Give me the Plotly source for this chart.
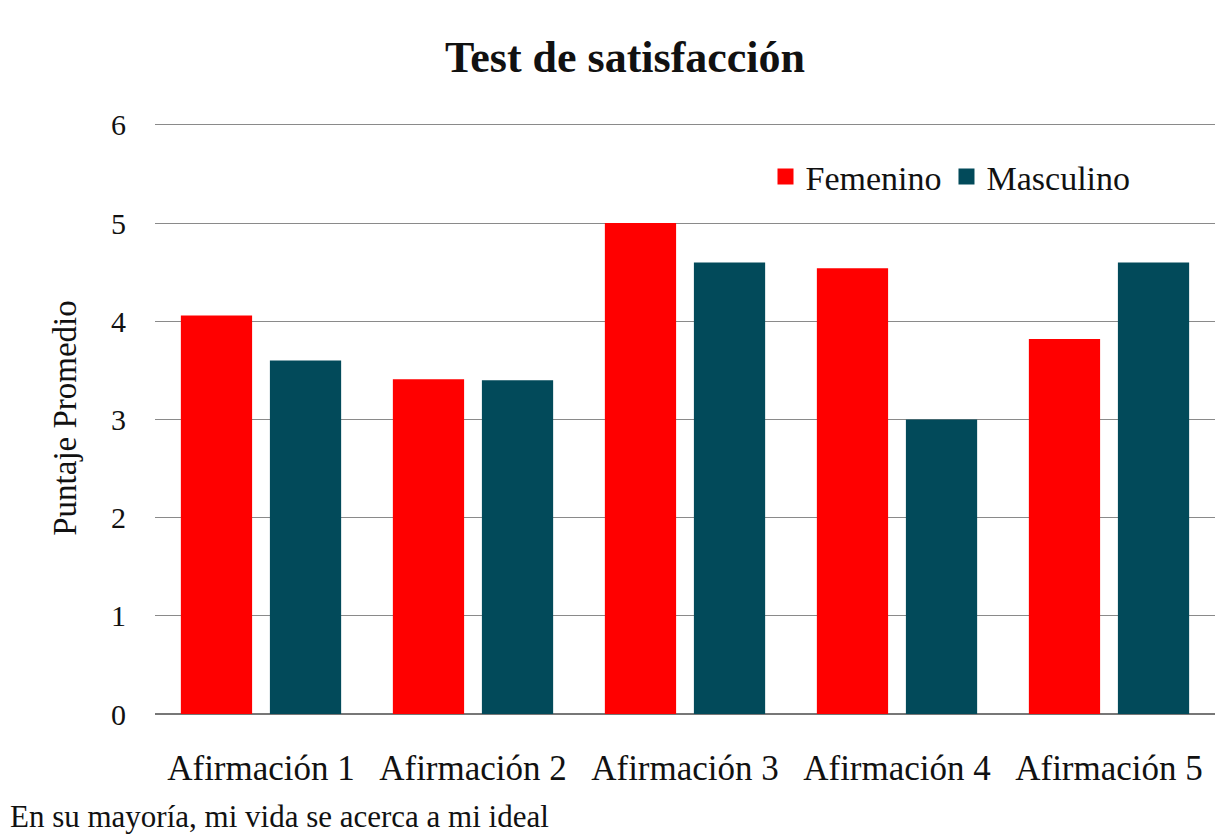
import plotly.graph_objects as go

categories = ["Afirmación 1", "Afirmación 2", "Afirmación 3", "Afirmación 4", "Afirmación 5"]
femenino = [4.06, 3.41, 5.0, 4.54, 3.82]
masculino = [3.60, 3.40, 4.60, 3.00, 4.60]
series_names = ["Femenino", "Masculino"]
colors = ["#FF0000", "#024A5A"]

FONT = "Liberation Serif"

# page is rendered with an 8px body margin: figure coords = page coords - 8
plot_top, plot_bottom = 114, 706
plot_h = plot_bottom - plot_top

fig = go.Figure()
for name, vals, col in zip(series_names, [femenino, masculino], colors):
    fig.add_trace(go.Bar(name=name, x=categories, y=vals, showlegend=False,
                         marker=dict(color=col, line=dict(width=0))))
# legend entries with larger square swatches
for name, col in zip(series_names, colors):
    fig.add_trace(go.Scatter(name=name, x=[None], y=[None], mode="markers",
                             marker=dict(symbol="square", size=18, color=col)))

fig.update_layout(
    width=1230, height=837,
    paper_bgcolor="white", plot_bgcolor="white",
    margin=dict(l=147, r=23, t=plot_top, b=837 - plot_bottom, autoexpand=False),
    barmode="group", bargap=0.16, bargroupgap=0.2,
    font=dict(family=FONT, color="#111111"),
    title=dict(text="<b>Test de satisfacción</b>", x=(625 - 8) / 1230, xanchor="center",
               y=1 - 49 / 837, yanchor="middle",
               font=dict(family=FONT, size=44, color="#111111")),
    legend=dict(orientation="h", x=0.925, xanchor="right",
                y=(plot_bottom - 169) / plot_h, yanchor="middle",
                font=dict(family=FONT, size=34, color="#111111"),
                bgcolor="rgba(0,0,0,0)", itemwidth=30, traceorder="normal",
                itemsizing="trace"),
    xaxis=dict(showgrid=False, showline=False, ticks="", automargin=False,
               tickfont=dict(family=FONT, size=35, color="#111111"),
               ticklabelstandoff=30),
    yaxis=dict(range=[0, 6.03], dtick=1, showgrid=True, gridcolor="#8a8a8a", gridwidth=1.3,
               zeroline=True, zerolinecolor="#777777", zerolinewidth=1.5, automargin=False,
               ticks="", tickfont=dict(family=FONT, size=30, color="#111111"),
               ticklabelstandoff=28,
               title=dict(text="Puntaje Promedio", standoff=24,
                          font=dict(family=FONT, size=33, color="#111111"))),
)

fig.add_annotation(text="En su mayoría, mi vida se acerca a mi ideal",
                   xref="paper", yref="paper",
                   x=-147 / 1060, xanchor="left",
                   y=(plot_bottom - 828) / plot_h, yanchor="bottom",
                   showarrow=False,
                   font=dict(family=FONT, size=31, color="#111111"))

fig.write_html("out.html")
